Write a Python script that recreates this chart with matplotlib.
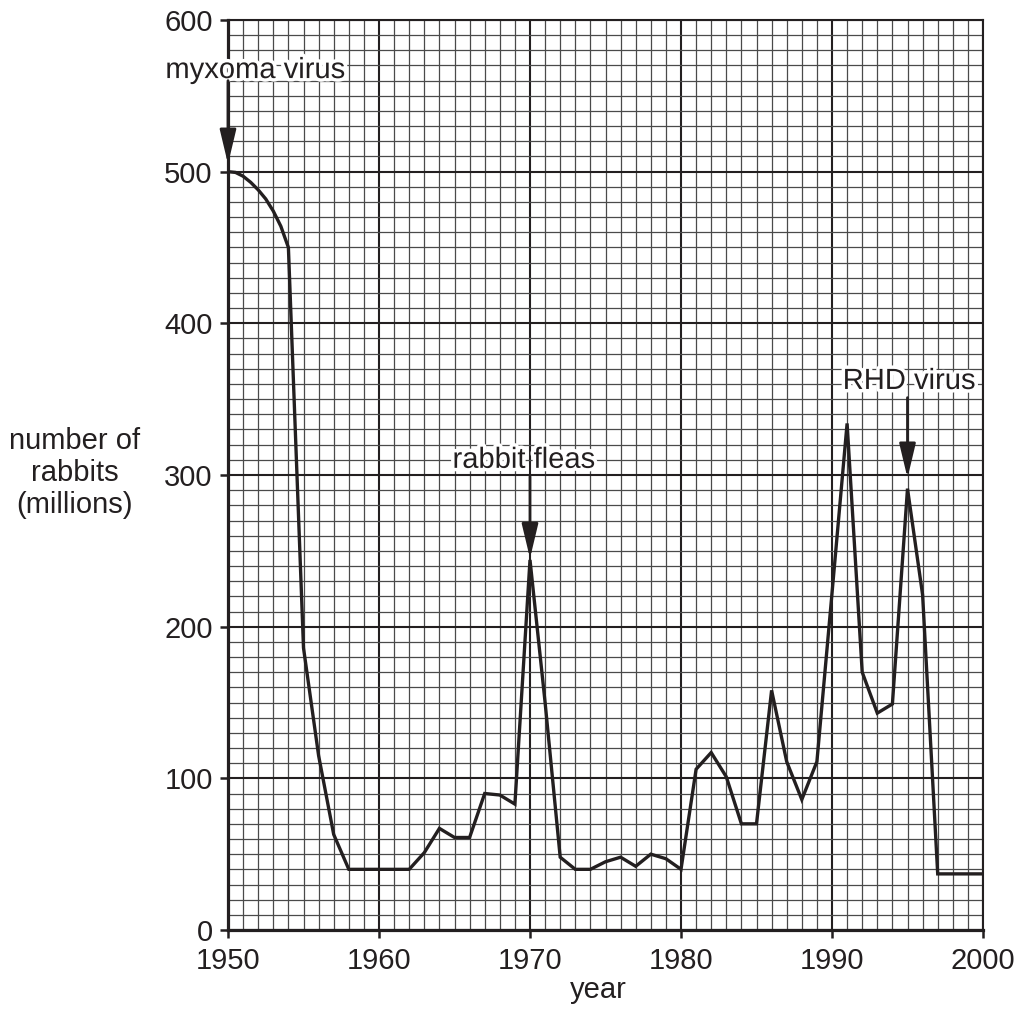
import numpy as np
import matplotlib
matplotlib.use("Agg")
import matplotlib.pyplot as plt
import matplotlib.patheffects as pe
from matplotlib.ticker import MultipleLocator

plt.rcParams['font.family'] = ['Liberation Sans', 'DejaVu Sans']

INK = '#231f20'

# ---- data ----
years = [1950, 1950.5, 1951, 1951.5, 1952, 1952.5, 1953, 1953.5, 1954,
         1955, 1956, 1957, 1958, 1959, 1960, 1961, 1962, 1963, 1964,
         1965, 1966, 1967, 1968, 1969, 1970, 1971, 1972, 1973, 1974,
         1975, 1976, 1977, 1978, 1979, 1980, 1981, 1982, 1983, 1984,
         1985, 1986, 1987, 1988, 1989, 1990, 1991, 1992, 1993, 1994,
         1995, 1996, 1997, 1998, 1999, 2000]
rabbits = [500, 499.5, 497, 493, 488, 482, 474, 464, 450,
           186, 115, 63, 40, 40, 40, 40, 40, 51, 67,
           61, 61, 90, 89, 83, 244, 150, 48, 40, 40,
           45, 48, 42, 50, 47, 40, 106, 117, 101, 70,
           70, 158, 111, 86, 111, 222, 334, 170, 143, 149,
           291, 221, 37, 37, 37, 37]

# events: label, year, label position, arrow start y, arrow tip y
events = ["myxoma virus", "rabbit fleas", "RHD virus"]
event_year = [1950, 1970, 1995]
label_x = [1951.8, 1969.6, 1995.1]
label_y = [567, 310, 362]
arrow_from = [560, 299, 351]
arrow_to = [505, 245, 298]

fig = plt.figure(figsize=(10.2, 10.1), dpi=100, facecolor='white')
ax = fig.add_axes([228 / 1020, 80 / 1010, 755 / 1020, 910 / 1010])

ax.set_xlim(1950, 2000)
ax.set_ylim(0, 600)

# graph-paper grid
ax.xaxis.set_major_locator(MultipleLocator(10))
ax.xaxis.set_minor_locator(MultipleLocator(1))
ax.yaxis.set_major_locator(MultipleLocator(100))
ax.yaxis.set_minor_locator(MultipleLocator(10))
ax.grid(which='minor', color='#4a4a4a', linewidth=0.9)
ax.grid(which='major', color=INK, linewidth=1.5)
ax.set_axisbelow(True)

ax.tick_params(which='major', direction='out', length=6, width=1.8,
               colors=INK, labelsize=21)
ax.tick_params(which='minor', length=0)
ax.tick_params(axis='x', pad=6)
ax.tick_params(axis='y', pad=5)

for side in ['left', 'bottom']:
    ax.spines[side].set_linewidth(2.3)
    ax.spines[side].set_color(INK)
for side in ['top', 'right']:
    ax.spines[side].set_linewidth(1.5)
    ax.spines[side].set_color(INK)

ax.plot(years, rabbits, color=INK, linewidth=2.4, solid_joinstyle='miter',
        zorder=3)

halo = [pe.withStroke(linewidth=5, foreground='white')]
for i in range(len(events)):
    ax.text(label_x[i], label_y[i], events[i], fontsize=21, color=INK,
            ha='center', va='center', path_effects=halo, zorder=4)
    ax.annotate('', xy=(event_year[i], arrow_to[i]),
                xytext=(event_year[i], arrow_from[i]),
                arrowprops=dict(arrowstyle='-|>,head_length=2.1,head_width=0.5',
                                mutation_scale=10, color=INK, lw=2.0,
                                shrinkA=0, shrinkB=0),
                zorder=5, annotation_clip=False)

fig.text(75 / 1020, 1 - 473 / 1010, "number of\nrabbits\n(millions)",
         fontsize=21, color=INK, ha='center', va='center',
         multialignment='center', linespacing=1.2)
fig.text(598 / 1020, 1 - 990 / 1010, "year", fontsize=21, color=INK,
         ha='center', va='center')

fig.savefig("out.png", dpi=100, facecolor='white')
